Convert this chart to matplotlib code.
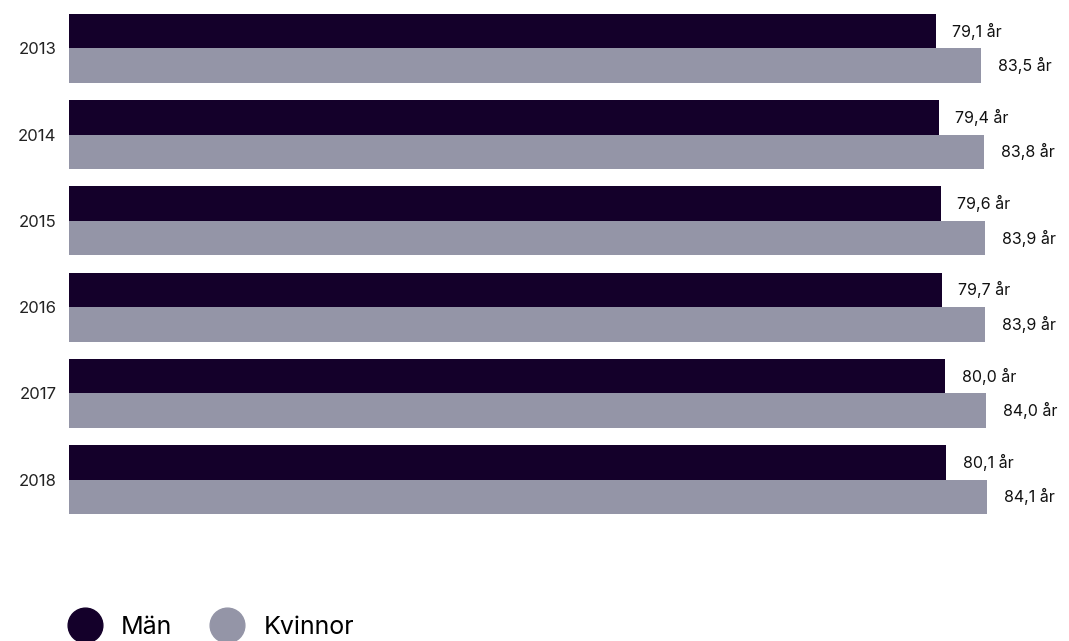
import matplotlib
matplotlib.use("Agg")
import matplotlib.pyplot as plt
import numpy as np
from matplotlib.lines import Line2D

# data
years = ["2013", "2014", "2015", "2016", "2017", "2018"]
man = [79.1, 79.4, 79.6, 79.7, 80.0, 80.1]
kvinnor = [83.5, 83.8, 83.9, 83.9, 84.0, 84.1]
series_names = ["Män", "Kvinnor"]

c_man = "#14002a"
c_kv = "#9495a7"

plt.rcParams['font.family'] = ['Inter', 'DejaVu Sans']

W, H = 1069, 641
fig = plt.figure(figsize=(W / 100, H / 100), dpi=100)
ax = fig.add_axes([69 / W, (H - 514) / H, 1 - 69 / W, 500 / H])

xmin, xmax = -5.4, 92.1
y = np.arange(len(years))
h = 0.40

ax.barh(y - h / 2, np.array(man) - xmin, left=xmin, height=h, color=c_man)
ax.barh(y + h / 2, np.array(kvinnor) - xmin, left=xmin, height=h, color=c_kv)

for i in range(len(years)):
    ax.annotate(f"{man[i]:.1f} år".replace(".", ","), (man[i], y[i] - h / 2),
                xytext=(12, 0), textcoords="offset points",
                va="center", ha="left", fontsize=11.5, color="#111111")
    ax.annotate(f"{kvinnor[i]:.1f} år".replace(".", ","), (kvinnor[i], y[i] + h / 2),
                xytext=(12.5, 0), textcoords="offset points",
                va="center", ha="left", fontsize=11.5, color="#111111")

ax.set_xlim(xmin, xmax)
ax.set_ylim(len(years) - 1 + h, -h)
ax.set_yticks(y, years)
ax.tick_params(axis="y", length=0, pad=9, labelsize=12, labelcolor="#222222")
ax.set_xticks([])
for s in ax.spines.values():
    s.set_visible(False)

handles = [Line2D([], [], marker="o", linestyle="none", markersize=25, color=c_man),
           Line2D([], [], marker="o", linestyle="none", markersize=25, color=c_kv)]
fig.legend(handles, series_names, loc="center left", bbox_to_anchor=(72 / W, 1 - 627 / H),
           ncol=2, frameon=False, fontsize=18, handletextpad=0.95, columnspacing=1.7,
           handlelength=1.0, borderpad=0, borderaxespad=0)

fig.savefig("out.png", dpi=100)
